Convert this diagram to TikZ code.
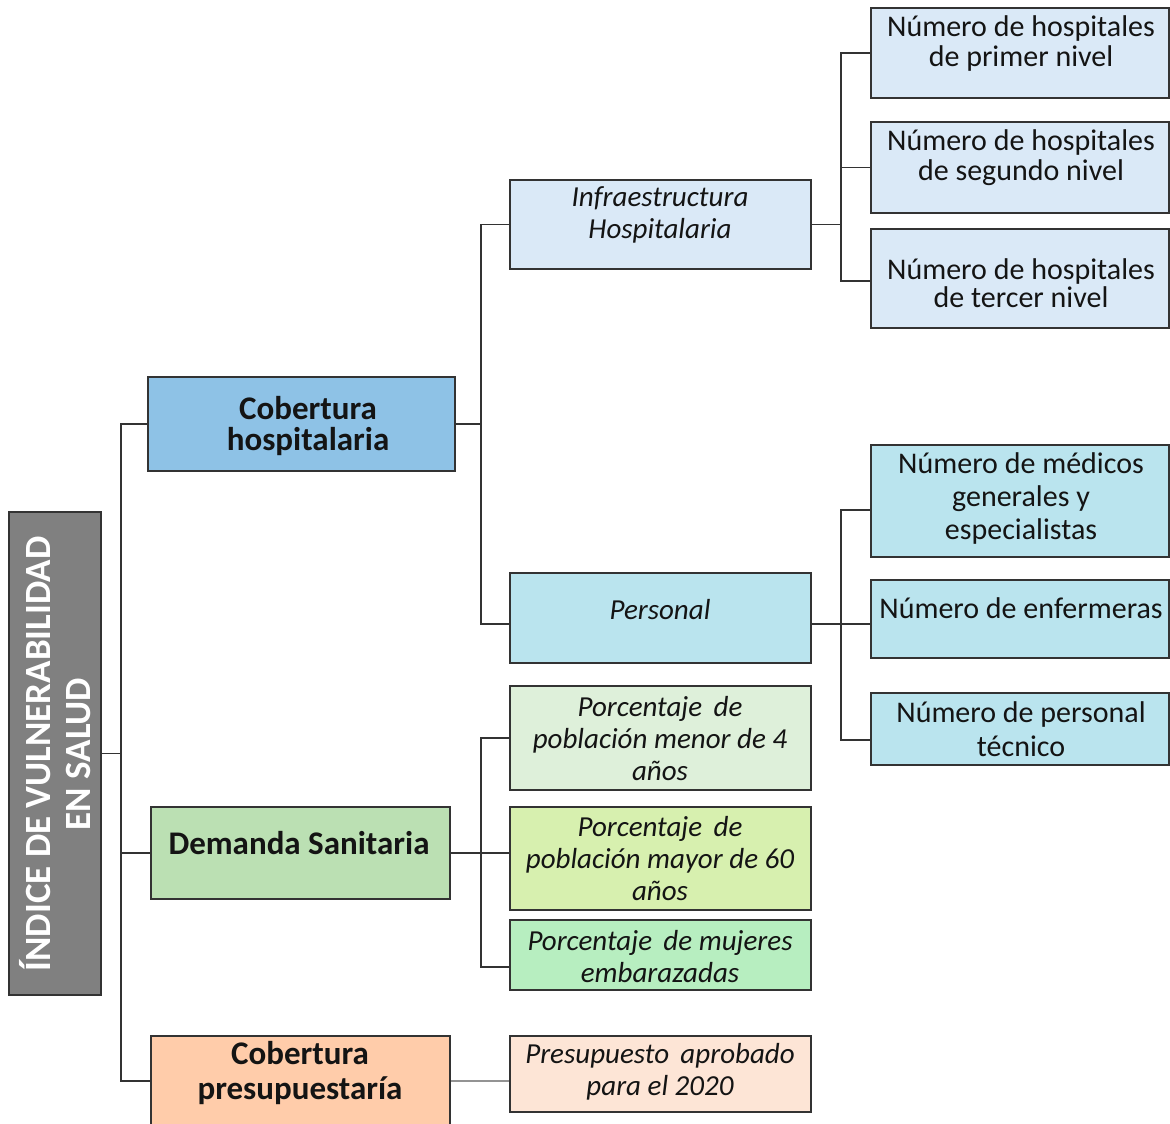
\documentclass[tikz,border=0pt]{standalone}
\usepackage{fontspec}
\setmainfont{Carlito}
\definecolor{cRoot}{RGB}{128,128,128}
\definecolor{cCH}{RGB}{142,194,230}
\definecolor{cDS}{RGB}{187,224,179}
\definecolor{cCP}{RGB}{255,204,170}
\definecolor{cInfra}{RGB}{218,233,247}
\definecolor{cPers}{RGB}{186,228,238}
\definecolor{cPMfour}{RGB}{222,240,218}
\definecolor{cPMsix}{RGB}{215,240,175}
\definecolor{cMuj}{RGB}{183,238,192}
\definecolor{cPres}{RGB}{253,229,214}
\definecolor{cLine}{RGB}{51,51,51}
\begin{document}
\begin{tikzpicture}[x=1pt,y=-1pt,
  box/.style={draw=cLine, line width=1.8pt, rectangle, inner sep=0pt},
  link/.style={draw=cLine, line width=1.8pt},
  txt/.style={align=center, inner sep=0pt, text=black!92},
  fbold/.style={font=\bfseries\fontsize{33}{31}\selectfont},
  fital/.style={font=\itshape\fontsize{29}{32}\selectfont},
  freg/.style={font=\fontsize{30}{30}\selectfont}]
\useasboundingbox (0,0) rectangle (1170,1124);
\clip (0,0) rectangle (1170,1124);
% boxes
\node[box, fill=cRoot, minimum width=92pt, minimum height=483pt] (root) at (55,753.5) {};
\node[box, fill=cCH, minimum width=307pt, minimum height=94pt] (ch) at (301.5,424) {};
\node[box, fill=cDS, minimum width=299pt, minimum height=92pt] (ds) at (300.5,853) {};
\node[box, fill=cCP, minimum width=299pt, minimum height=90pt] (cp) at (300.5,1081) {};
\node[box, fill=cInfra, minimum width=301pt, minimum height=89pt] (infra) at (660.5,224.5) {};
\node[box, fill=cPers, minimum width=301pt, minimum height=90pt] (pers) at (660.5,618) {};
\node[box, fill=cPMfour, minimum width=301pt, minimum height=104pt] (pmfour) at (660.5,738) {};
\node[box, fill=cPMsix, minimum width=301pt, minimum height=103pt] (pmsix) at (660.5,858.5) {};
\node[box, fill=cMuj, minimum width=301pt, minimum height=70pt] (muj) at (660.5,955) {};
\node[box, fill=cPres, minimum width=301pt, minimum height=76pt] (pres) at (660.5,1074) {};
\node[box, fill=cInfra, minimum width=298pt, minimum height=90pt] (hone) at (1020,53) {};
\node[box, fill=cInfra, minimum width=298pt, minimum height=91pt] (htwo) at (1020,167.5) {};
\node[box, fill=cInfra, minimum width=298pt, minimum height=99pt] (hthree) at (1020,278.5) {};
\node[box, fill=cPers, minimum width=298pt, minimum height=112pt] (med) at (1020,501) {};
\node[box, fill=cPers, minimum width=298pt, minimum height=78pt] (enf) at (1020,619) {};
\node[box, fill=cPers, minimum width=298pt, minimum height=72pt] (tec) at (1020,729) {};
% texts
\node[txt, rotate=90, text=white, font=\bfseries\fontsize{37}{40}\selectfont] (roott) at (55,754) {ÍNDICE DE VULNERABILIDAD\\EN SALUD};
\node[txt, fbold] (cht) at (308,426) {Cobertura\\hospitalaria};
\node[txt, fbold] (dst) at (299,843) {Demanda Sanitaria};
\node[txt, font=\bfseries\fontsize{33}{35}\selectfont] (cpt) at (300,1073) {Cobertura\\presupuestaría};
\node[txt, fital] (infrat) at (660,215) {Infraestructura\\Hospitalaria};
\node[txt, fital] (perst) at (660,610) {Personal};
\node[txt, fital] (pmfourt) at (660,739) {Porcentaje\, de\\población menor de 4\\años};
\node[txt, fital] (pmsixt) at (660,859) {Porcentaje\, de\\población mayor de 60\\años};
\node[txt, fital] (mujt) at (660,957) {Porcentaje\, de mujeres\\embarazadas};
\node[txt, fital] (prest) at (660,1072) {Presupuesto\, aprobado\\para el 2020};
\node[txt, freg] (honet) at (1021,44) {Número de hospitales\\de primer nivel};
\node[txt, freg] (htwot) at (1021,158) {Número de hospitales\\de segundo nivel};
\node[txt, font=\fontsize{30}{28}\selectfont] (hthreet) at (1021,283) {Número de hospitales\\de tercer nivel};
\node[txt, font=\fontsize{30}{33}\selectfont] (medt) at (1021,498) {Número de médicos\\generales y\\especialistas};
\node[txt, freg] (enft) at (1021,608) {Número de enfermeras};
\node[txt, font=\fontsize{30}{34}\selectfont] (tect) at (1021,729) {Número de personal\\técnico};
% bus coordinates
\coordinate (bone) at (121,753.5);
\coordinate (btwo) at (481,424);
\coordinate (bthree) at (841,224.5);
\coordinate (bfour) at (841,624);
\coordinate (bfive) at (481,853);
\coordinate (ypers) at (0,624);
\coordinate (ymed) at (0,510);
\coordinate (ytec) at (0,740);
\coordinate (ymuj) at (0,967);
\coordinate (yhthree) at (0,281);
% connectors
\draw[link] (root.east |- bone) -- (bone);
\draw[link] (bone) |- (ch.west);
\draw[link] (bone) |- (ds.west);
\draw[link] (bone) |- (cp.west);
\draw[link] (ch.east) -- (btwo);
\draw[link] (btwo) |- (infra.west);
\draw[link] (btwo) |- (pers.west |- ypers);
\draw[link] (infra.east) -- (bthree);
\draw[link] (bthree) |- (hone.west);
\draw[link] (bthree) |- (htwo.west);
\draw[link] (bthree) |- (hthree.west |- yhthree);
\draw[link] (pers.east |- ypers) -- (bfour);
\draw[link] (bfour) |- (med.west |- ymed);
\draw[link] (bfour) |- (enf.west |- ypers);
\draw[link] (bfour) |- (tec.west |- ytec);
\draw[link] (ds.east) -- (bfive);
\draw[link] (bfive) |- (pmfour.west);
\draw[link] (bfive) -- (pmsix.west |- bfive);
\draw[link] (bfive) |- (muj.west |- ymuj);
\draw[draw=gray!85, line width=1.8pt] (cp.east) -- (pres.west |- cp.east);
\end{tikzpicture}
\end{document}
